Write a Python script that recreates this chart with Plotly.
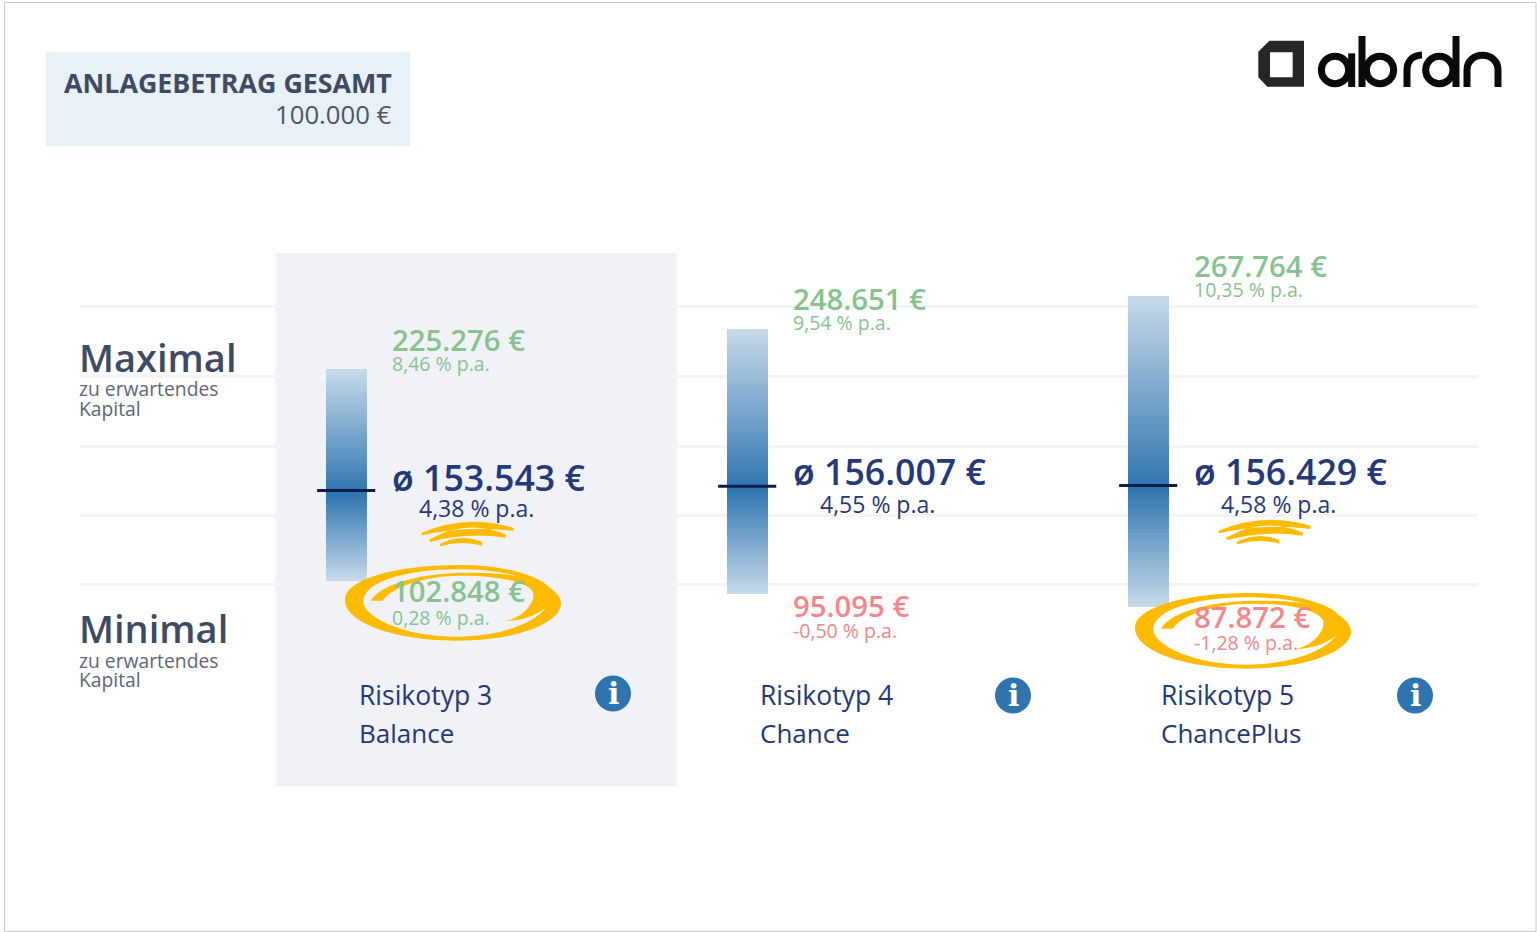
import numpy as np
import plotly.graph_objects as go

CATEGORIES = ["Risikotyp 3", "Risikotyp 4", "Risikotyp 5"]
PROFILES = ["Balance", "Chance", "ChancePlus"]
MAX_VALUES = [225276, 248651, 267764]
MEAN_VALUES = [153543, 156007, 156429]
MIN_VALUES = [102848, 95095, 87872]
MAX_RATES = ["8,46 % p.a.", "9,54 % p.a.", "10,35 % p.a."]
MEAN_RATES = ["4,38 % p.a.", "4,55 % p.a.", "4,58 % p.a."]
MIN_RATES = ["0,28 % p.a.", "-0,50 % p.a.", "-1,28 % p.a."]
GRID_VALUES = [261700, 221200, 180800, 140900, 101000]

W, H = 1537, 932
FONT = "Open Sans"
NAVY = "#24387a"
SLATE = "#3f4a63"
GREY = "#5d6679"
GREEN = "#87c28f"
RED = "#f6868a"
GOLD = "#ffbb00"
LIGHT = np.array([200, 218, 234])
DARK = np.array([46, 117, 176])


def euro(v):
    return f"{v:,}".replace(",", ".") + " €"


def px(x):
    return x / W


def py(y):
    return 1 - y / H


fig = go.Figure()
annotations = []
shapes = []


def label(x, y, text, size, color, anchor="left", weight=400, family=FONT):
    annotations.append(dict(
        x=px(x - (1.5 if anchor == "left" else -1)), y=py(y - 1), xref="paper", yref="paper", text=text, showarrow=False,
        xanchor=anchor, yanchor="middle", borderpad=0,
        font=dict(family=family, size=size, color=color, weight=weight),
    ))


# Gradient columns, one stack of thin bars per category
for i, (lo, hi, mean) in enumerate(zip(MIN_VALUES, MAX_VALUES, MEAN_VALUES)):
    edges = np.linspace(lo, hi, 81)
    mids = (edges[:-1] + edges[1:]) / 2
    colors = []
    for m in mids:
        t = (m - mean) / (hi - mean) if m >= mean else (mean - m) / (mean - lo)
        t = min(max(t, 0), 1)
        c = DARK + (LIGHT - DARK) * t
        colors.append(f"rgb({c[0]:.0f},{c[1]:.0f},{c[2]:.0f})")
    fig.add_trace(go.Bar(
        x=[i] * len(mids), y=np.diff(edges), base=edges[:-1], width=0.102,
        marker=dict(color=colors, line=dict(width=0)), hoverinfo="skip", showlegend=False,
    ))

# Mean markers
fig.add_trace(go.Scatter(
    x=list(range(len(MEAN_VALUES))), y=MEAN_VALUES, yaxis="y2", mode="markers",
    marker=dict(symbol="line-ew", size=41.5, line=dict(width=3, color="#0d1c4d")),
    hoverinfo="skip", showlegend=False,
))

# Background and frame
shapes.append(dict(type="rect", xref="paper", yref="paper", x0=px(4.5), x1=px(1536), y0=py(931.5), y1=py(2.5),
                   line=dict(color="#c9c9c9", width=1), fillcolor="rgba(0,0,0,0)", layer="below"))
shapes.append(dict(type="rect", xref="paper", yref="paper", x0=px(46), x1=px(410), y0=py(146), y1=py(52),
                   line=dict(width=0), fillcolor="#e8f0f8", layer="below"))
shapes.append(dict(type="rect", xref="paper", yref="paper", x0=px(275), x1=px(677), y0=py(786), y1=py(253),
                   line=dict(width=0), fillcolor="#f0f2f7", layer="below"))

# Text blocks
label(392, 83.5, "ANLAGEBETRAG GESAMT", 26.8, SLATE, "right", 700)
label(392, 115.5, euro(100000), 25.7, "#4c566b", "right")
for y1, y2, y3, word in [(358.5, 389.5, 409.5, "Maximal"), (628.5, 661.5, 680.5, "Minimal")]:
    label(79.5, y1, word, 38, SLATE, weight=600)
    label(79.5, y2, "zu erwartendes", 19.3, GREY)
    label(79.5, y3, "Kapital", 19.3, GREY)

STEP = 401
MAX_Y = [(341, 364.5), (300, 323.5), (267, 290.5)]
MEAN_Y = [(478, 508.5), (472, 504.5), (472, 504.5)]
MIN_Y = [(592, 618.5), (607, 631.5), (618, 643.5)]
ICON = [(613, 693.5), (1013, 695.5), (1415, 695.5)]
for i in range(3):
    x = 392 + STEP * i
    label(x, MAX_Y[i][0], euro(MAX_VALUES[i]), 29.3, GREEN, weight=600)
    label(x, MAX_Y[i][1], MAX_RATES[i], 19.5, GREEN)
    label(x, MEAN_Y[i][0], "ø " + euro(MEAN_VALUES[i]), 35.7, NAVY, weight=600)
    label(x + 27, MEAN_Y[i][1], MEAN_RATES[i], 23, NAVY)
    mc = GREEN if MIN_VALUES[i] >= 100000 else RED
    label(x, MIN_Y[i][0], euro(MIN_VALUES[i]), 29.3, mc, weight=600)
    label(x, MIN_Y[i][1], MIN_RATES[i], 19.5, mc)
    label(359 + STEP * i, 695.5, CATEGORIES[i], 26.5, NAVY)
    label(359 + STEP * i, 734, PROFILES[i], 26, NAVY)
    cx, cy = ICON[i]
    shapes.append(dict(type="circle", xref="paper", yref="paper", x0=px(cx - 18), x1=px(cx + 18),
                       y0=py(cy + 18), y1=py(cy - 18), line=dict(width=0), fillcolor="#2e75b0"))
    annotations.append(dict(x=px(cx), y=py(cy), xref="paper", yref="paper", text="<b>i</b>", showarrow=False,
                            xanchor="center", yanchor="middle",
                            font=dict(family="DejaVu Serif", size=30, color="white")))


# Hand-drawn highlights (path points are in pixels relative to an anchor; y up in Plotly)
def to_path(cmds):
    out = []
    for c in cmds:
        if c[0] == "Z":
            out.append("Z")
        else:
            pts = c[1:]
            out.append(c[0] + " ".join(f"{(pts[k] - 459) / 3:.2f},{-(pts[k + 1] - 489) / 3:.2f}" for k in range(0, len(pts), 2)))
    return " ".join(out)


ring = to_path([
    ("M", 135, 480), ("C", 135, 420, 280, 375, 480, 375), ("C", 620, 375, 720, 410, 745, 440),
    ("C", 770, 455, 783, 475, 783, 490), ("C", 783, 550, 650, 602, 470, 602), ("C", 290, 602, 135, 550, 135, 480), ("Z",),
    ("M", 190, 485), ("C", 190, 530, 310, 590, 470, 590), ("C", 600, 590, 700, 550, 737, 505),
    ("C", 700, 530, 660, 543, 620, 543), ("C", 670, 530, 705, 490, 700, 460), ("C", 695, 430, 600, 405, 480, 407),
    ("C", 380, 407, 275, 440, 248, 482), ("L", 212, 482), ("C", 250, 425, 380, 398, 500, 398),
    ("C", 570, 398, 620, 402, 650, 408), ("C", 600, 393, 530, 388, 470, 388), ("C", 320, 388, 190, 425, 190, 485), ("Z",),
])
for cx, cy in [(453, 603), (1243, 631)]:
    shapes.append(dict(type="path", path=ring, xref="paper", yref="paper", xsizemode="pixel", ysizemode="pixel",
                       xanchor=px(cx), yanchor=py(cy), fillcolor=GOLD, line=dict(width=0)))

swoosh = to_path([
    ("M", 362, 285), ("Q", 500, 226, 640, 270), ("L", 638, 279), ("Q", 500, 260, 365, 292), ("Z",),
    ("M", 385, 305), ("Q", 500, 240, 617, 290), ("L", 614, 299), ("Q", 500, 282, 390, 312), ("Z",),
    ("M", 417, 318), ("Q", 480, 285, 545, 312), ("L", 546, 323), ("Q", 480, 306, 420, 325), ("Z",),
])
for cx, cy in [(467, 536), (1264, 534)]:
    shapes.append(dict(type="path", path=swoosh, xref="paper", yref="paper", xsizemode="pixel", ysizemode="pixel",
                       xanchor=px(cx - 13.5), yanchor=py(cy + 65), fillcolor=GOLD, line=dict(width=0)))


# Logo
def lx(v):
    return px(1230 + v / 3)


def ly(v):
    return py(20 + v / 3)


def lpath(cmds, **kw):
    d = []
    for c in cmds:
        if c[0] == "Z":
            d.append("Z")
        else:
            pts = c[1:]
            d.append(c[0] + " ".join(f"{lx(pts[k]):.5f},{ly(pts[k + 1]):.5f}" for k in range(0, len(pts), 2)))
    shapes.append(dict(type="path", path=" ".join(d), xref="paper", yref="paper", **kw))


INK = dict(line=dict(color="#0a0a0a", width=7), fillcolor="rgba(0,0,0,0)")
for cx in (315, 450, 628):
    shapes.append(dict(type="circle", xref="paper", yref="paper", x0=lx(cx - 41), x1=lx(cx + 41),
                       y0=ly(150 + 41), y1=ly(150 - 41), **INK))
lpath([("M", 365, 100), ("L", 365, 201)], **INK)
lpath([("M", 396, 48), ("L", 396, 201)], **INK)
lpath([("M", 531, 201), ("L", 531, 150), ("C", 531, 122, 548, 106, 576, 105)], **INK)
lpath([("M", 678, 48), ("L", 678, 201)], **INK)
lpath([("M", 711, 201), ("L", 711, 150), ("C", 711, 124, 732, 106, 757, 106), ("C", 784, 106, 804, 124, 804, 150), ("L", 804, 201)], **INK)
lpath([("M", 118, 62), ("L", 222, 62), ("L", 222, 200), ("L", 112, 200), ("L", 85, 172), ("L", 85, 95), ("Z",),
       ("M", 120, 97), ("L", 120, 172), ("L", 188, 172), ("L", 188, 97), ("Z",)],
      fillcolor="#262626", line=dict(width=0))

Y_TOP, Y_BOTTOM = 438900, -100150
MEAN_SHIFT = 1700
X_LEFT, X_RIGHT = 80, 1478
BAR0, BAR_STEP = 346.2, 401
fig.update_layout(
    width=W, height=H, autosize=False, margin=dict(l=0, r=0, t=0, b=0),
    paper_bgcolor="white", plot_bgcolor="rgba(0,0,0,0)", barmode="overlay", bargap=0, showlegend=False,
    font=dict(family=FONT),
    xaxis=dict(domain=[px(X_LEFT), px(X_RIGHT)], range=[(X_LEFT - BAR0) / BAR_STEP, (X_RIGHT - BAR0) / BAR_STEP],
               showgrid=False, zeroline=False, showticklabels=False, ticks="", fixedrange=True),
    yaxis=dict(domain=[0, 1], range=[Y_BOTTOM, Y_TOP], tickmode="array", tickvals=GRID_VALUES, showticklabels=False,
               ticks="", showgrid=True, gridcolor="#f4f4f4", gridwidth=3, zeroline=False, fixedrange=True),
    yaxis2=dict(domain=[0, 1], overlaying="y", range=[Y_BOTTOM - MEAN_SHIFT, Y_TOP - MEAN_SHIFT], visible=False,
                fixedrange=True),
    shapes=shapes, annotations=annotations,
)
fig.write_html("out.html", config={"displayModeBar": False},
               post_script="document.documentElement.style.margin='0';document.body.style.margin='0';document.body.style.overflow='hidden';")
